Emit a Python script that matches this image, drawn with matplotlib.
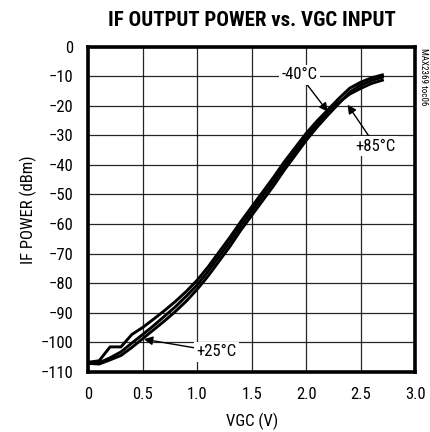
import numpy as np
import matplotlib
matplotlib.use('Agg')
from matplotlib import pyplot as plt
from matplotlib import font_manager

names = {f.name for f in font_manager.fontManager.ttflist}
font = 'Liberation Sans'
for cand in ['Liberation Sans Narrow', 'Roboto Condensed', 'Open Sans Condensed',
             'DejaVu Sans Condensed']:
    if cand in names:
        font = cand
        break
narrow = font != 'Liberation Sans'
plt.rcParams['font.family'] = [font, 'DejaVu Sans']
fs = 12 if narrow else 11
tfs = 15 if narrow else 12.5

# VGC sweep (V)
vgc = [0.0, 0.1, 0.2, 0.3, 0.4, 0.5, 0.6, 0.7, 0.8, 0.9, 1.0, 1.1, 1.2, 1.3,
       1.4, 1.5, 1.6, 1.7, 1.8, 1.9, 2.0, 2.1, 2.2, 2.3, 2.4, 2.5, 2.6, 2.7]

# IF output power (dBm) per temperature
p_m40 = [-106.8, -106.3, -101.6, -101.6, -97.4, -95.0, -92.2, -89.3, -86.2, -82.8,
         -79.0, -74.5, -69.5, -64.5, -59.2, -54.2, -49.2, -44.2, -38.9, -34.1,
         -29.3, -25.1, -21.3, -17.5, -14.0, -12.0, -10.5, -9.5]
p_p25 = [-107.2, -107.4, -106.0, -104.5, -101.8, -98.8, -95.8, -92.8, -89.6, -86.1,
         -82.1, -77.6, -72.6, -67.6, -62.1, -57.1, -52.1, -47.1, -41.7, -36.7,
         -31.7, -27.2, -23.1, -19.2, -15.3, -13.0, -11.4, -10.3]
p_p85 = [-107.0, -107.0, -105.3, -103.3, -100.3, -97.4, -94.4, -91.2, -88.0, -84.4,
         -80.6, -76.0, -71.0, -66.0, -60.6, -55.6, -50.6, -45.6, -40.3, -35.4,
         -30.5, -26.2, -22.4, -18.8, -16.0, -14.1, -12.4, -11.3]

fig = plt.figure(figsize=(4.30, 4.32), dpi=100)
ax = fig.add_axes([0.2053, 0.1396, 0.760, 0.752])

for p in (p_m40, p_p25, p_p85):
    ax.plot(vgc, p, color='black', lw=2.1, solid_joinstyle='round', zorder=3)

ax.set_xlim(0, 3.0)
ax.set_ylim(-110, 0)
ax.set_xticks(np.arange(0, 3.01, 0.5))
ax.set_xticklabels(['0', '0.5', '1.0', '1.5', '2.0', '2.5', '3.0'])
ax.set_yticks(np.arange(-110, 1, 10))
ax.grid(True, color='black', lw=0.9, alpha=0.85)
ax.tick_params(length=0, labelsize=fs, pad=11)
for s in ax.spines.values():
    s.set_linewidth(2.6)
    s.set_zorder(5)

ax.set_xlabel('VGC (V)', fontsize=fs, labelpad=8)
ax.set_ylabel('IF POWER (dBm)', fontsize=fs, labelpad=2)
fig.text(0.585, 0.953, 'IF OUTPUT POWER vs. VGC INPUT', ha='center', va='center',
         fontsize=tfs, fontweight='bold')
fig.text(0.985, 0.822, 'MAX2369 toc06', rotation=270, ha='center', va='center',
         fontsize=6.5)

box = dict(boxstyle='square,pad=0.15', fc='white', ec='none')
arr = dict(arrowstyle='-|>', color='black', lw=1.0, mutation_scale=13, shrinkA=0, shrinkB=0)
ax.annotate('-40°C', xy=(2.20, -22.0), xytext=(1.94, -9.5), fontsize=fs,
            ha='center', va='center', bbox=box, arrowprops=arr, zorder=6)
ax.annotate('+85°C', xy=(2.38, -19.6), xytext=(2.64, -33.7), fontsize=fs,
            ha='center', va='center', bbox=box, arrowprops=arr, zorder=6)
ax.annotate('+25°C', xy=(0.51, -99.0), xytext=(1.18, -103.2), fontsize=fs,
            ha='center', va='center', bbox=box, arrowprops=arr, zorder=6)

fig.savefig('out.png', dpi=100)
